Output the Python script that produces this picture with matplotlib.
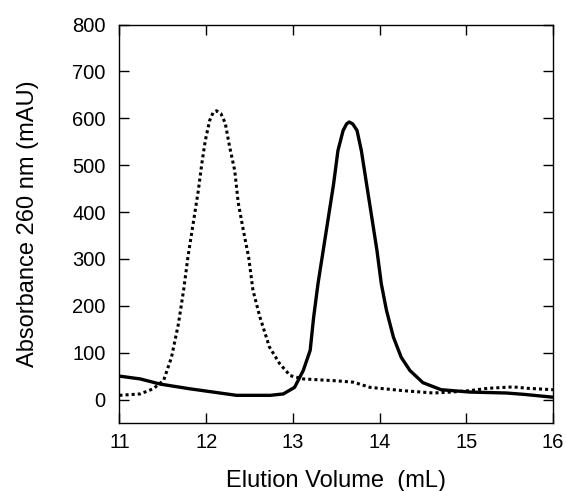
import matplotlib
matplotlib.use("Agg")
import matplotlib.pyplot as plt

# elution profiles
vol_dotted = [11.0, 11.24, 11.39, 11.51, 11.60, 11.68, 11.74, 11.79, 11.85, 11.91, 11.95,
              11.99, 12.04, 12.08, 12.12, 12.17, 12.22, 12.27, 12.33, 12.37, 12.43, 12.49,
              12.54, 12.62, 12.73, 12.85, 12.97, 13.12, 13.50, 13.70, 13.89, 14.27,
              14.62, 14.83, 15.04, 15.25, 15.54, 15.71, 16.0]
abs_dotted = [9, 12, 23, 41, 90, 161, 233, 304, 375, 446, 503,
              552, 595, 612, 616, 610, 590, 540, 488, 420, 360, 304,
              233, 176, 112, 76, 51, 44, 40, 37, 26, 19,
              14, 16, 19, 24, 27, 24, 21]

vol_solid = [11.0, 11.24, 11.47, 11.81, 12.35, 12.74, 12.89, 13.02, 13.12, 13.20, 13.24,
             13.29, 13.35, 13.41, 13.47, 13.52, 13.58, 13.62, 13.65, 13.69, 13.74, 13.79,
             13.85, 13.91, 13.97, 14.02, 14.08, 14.16, 14.25, 14.35, 14.5, 14.71,
             15.04, 15.46, 15.67, 16.0]
abs_solid = [50, 44, 33, 23, 9, 9, 12, 26, 62, 105, 176,
             247, 318, 389, 460, 531, 574, 588, 592, 588, 574, 531,
             460, 389, 318, 247, 190, 133, 90, 62, 36, 21,
             16, 14, 11, 5]

x_ticks = [11, 12, 13, 14, 15, 16]
y_ticks = [0, 100, 200, 300, 400, 500, 600, 700, 800]

plt.rcParams["font.family"] = ["Liberation Sans", "DejaVu Sans"]

fig = plt.figure(figsize=(5.66, 4.91), dpi=100)
ax = fig.add_axes([0.211, 0.1385, 0.766, 0.8116])

ax.plot(vol_dotted, abs_dotted, color="black", lw=2.2, linestyle=(0, (1, 1)),
        dash_capstyle="butt")
ax.plot(vol_solid, abs_solid, color="black", lw=2.4, solid_joinstyle="round")

ax.set_xlim(11, 16)
ax.set_ylim(-50, 800)
ax.set_xticks(x_ticks)
ax.set_yticks(y_ticks)
ax.tick_params(direction="in", top=True, right=True, length=7, width=1,
               labelsize=14.5)
ax.tick_params(axis="x", pad=7)
ax.tick_params(axis="y", pad=10)
for s in ax.spines.values():
    s.set_linewidth(1)

ax.set_xlabel("Elution Volume  (mL)", fontsize=17, labelpad=13)
ax.set_ylabel("Absorbance 260 nm (mAU)", fontsize=17, labelpad=24)

fig.savefig("out.png", dpi=100)
